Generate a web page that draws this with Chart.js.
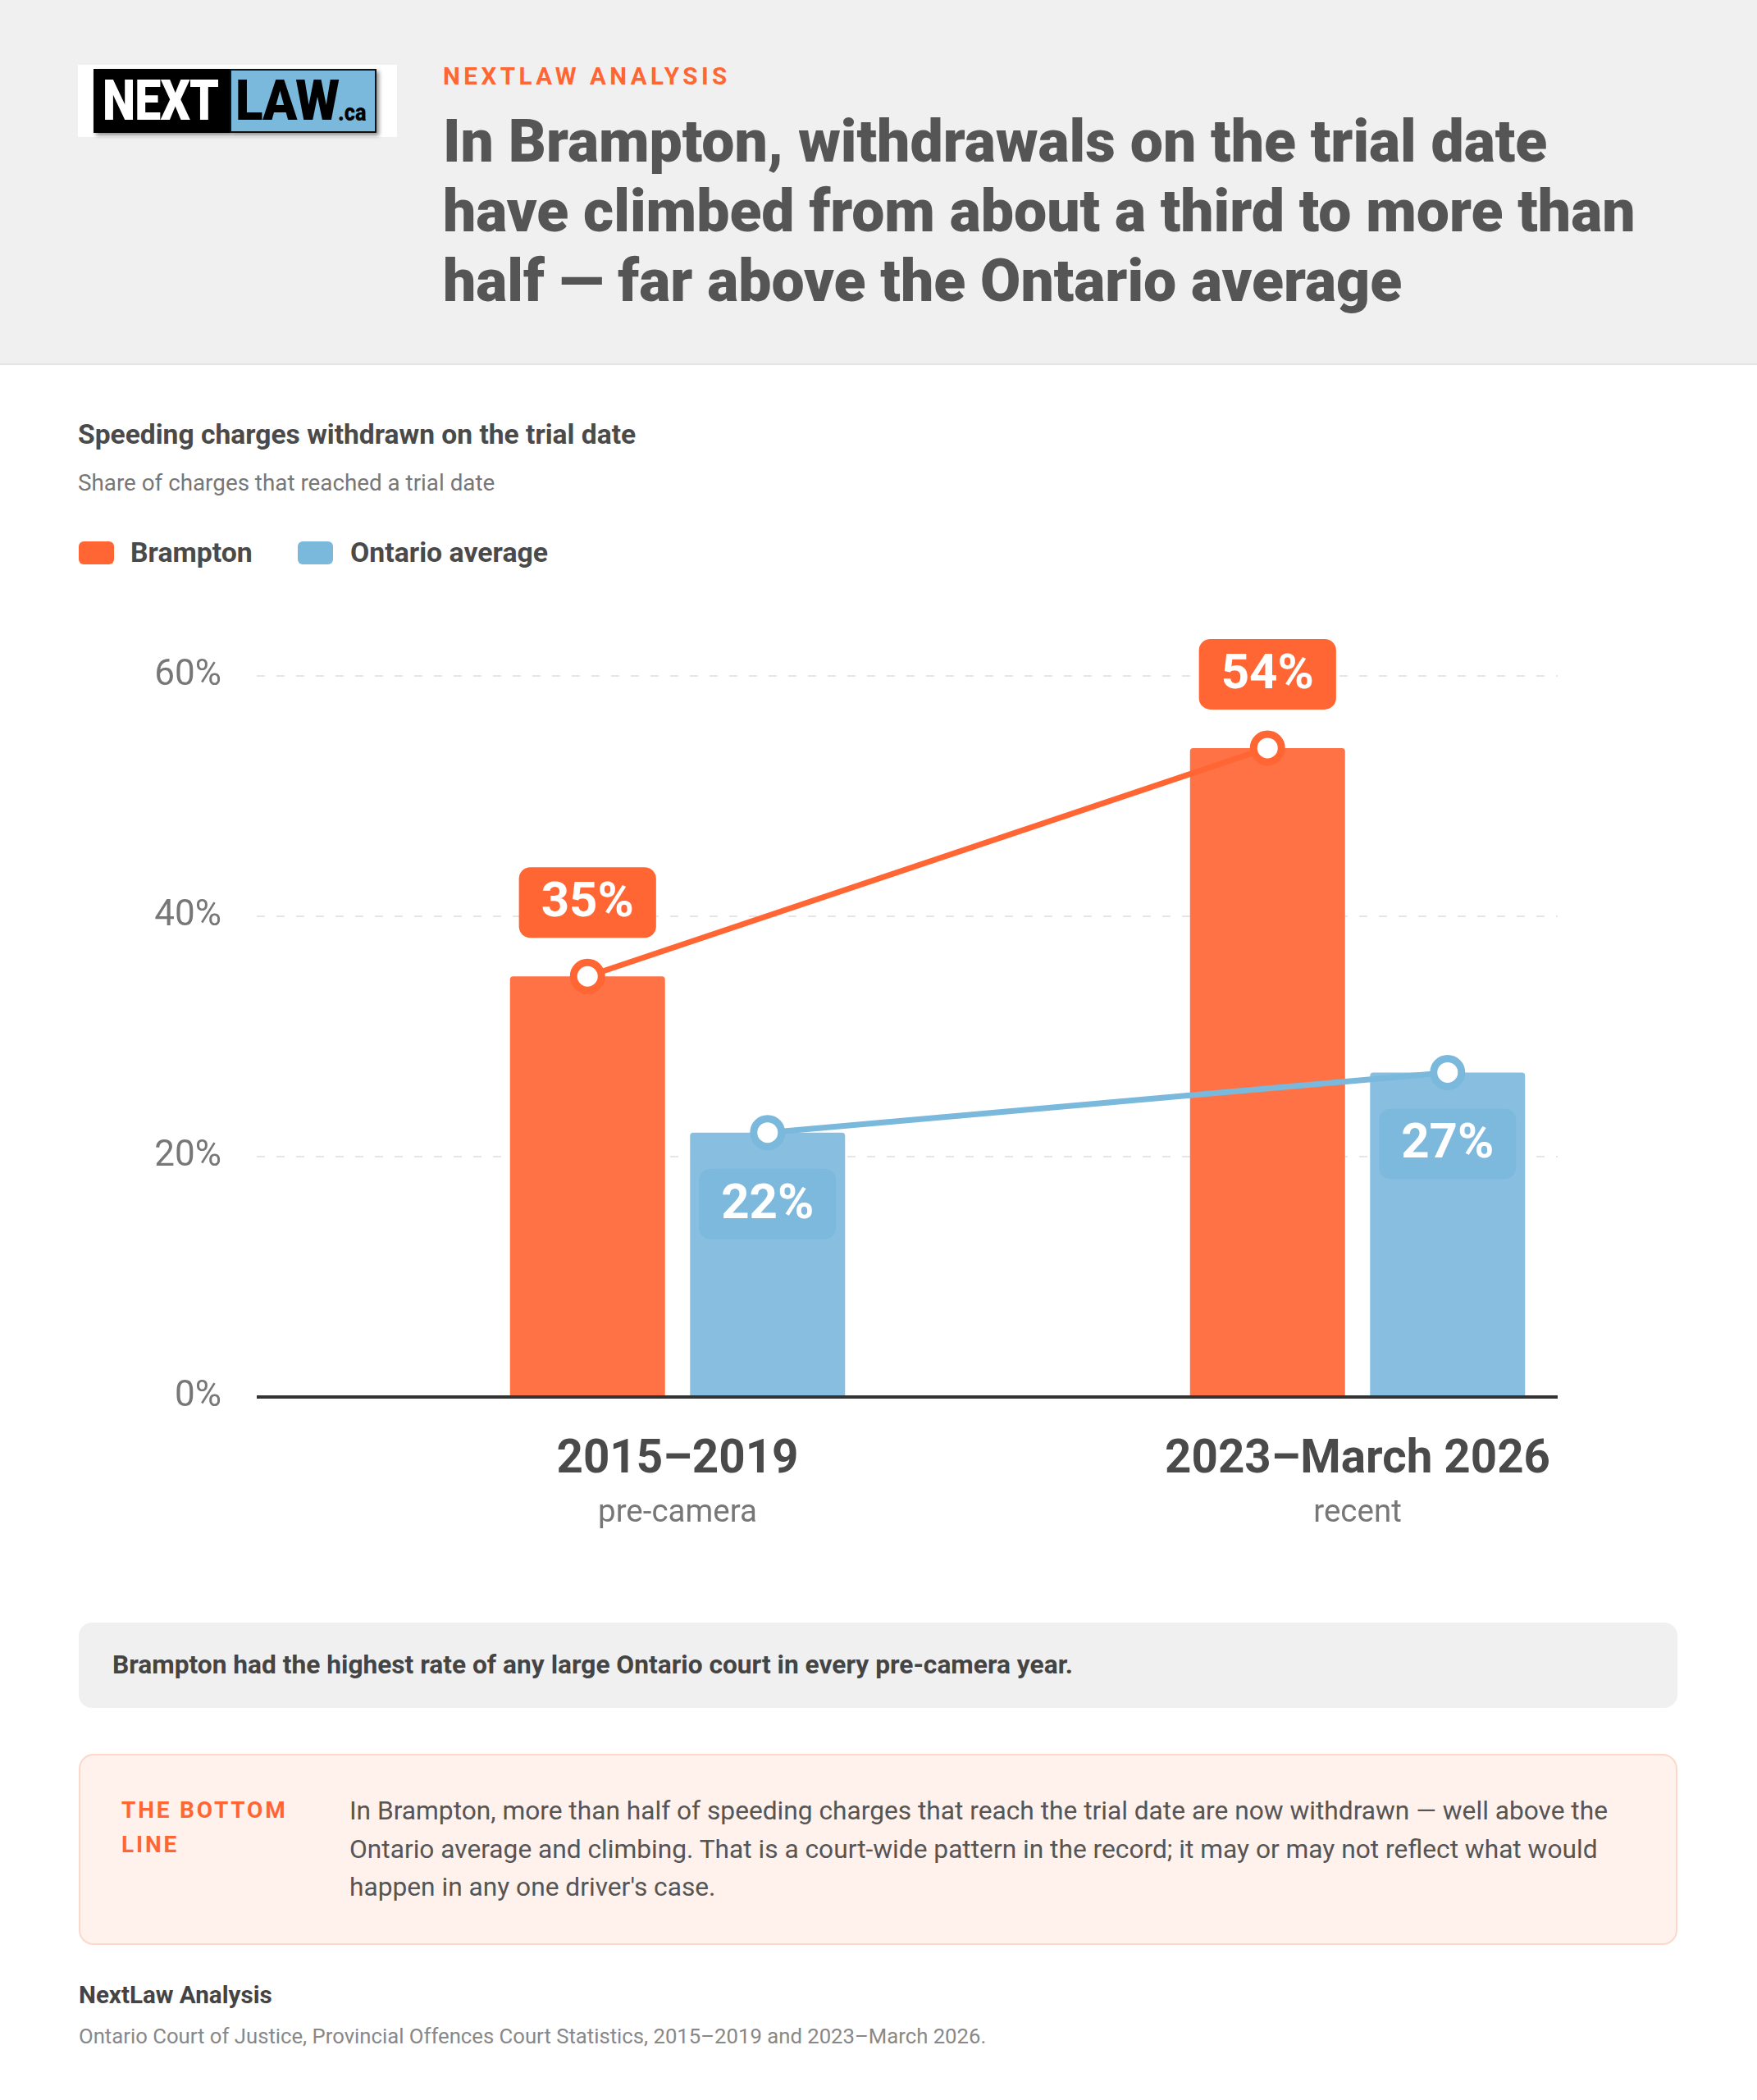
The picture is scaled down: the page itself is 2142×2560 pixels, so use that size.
<!DOCTYPE html>
<html>
<head>
<meta charset="utf-8">
<script src="https://cdn.jsdelivr.net/npm/chart.js@4.4.1/dist/chart.umd.min.js"></script>
<style>
  html, body { margin: 0; padding: 0; }
  body { width: 2142px; height: 2560px; position: relative; overflow: hidden; background: #fff; font-family: Roboto, "Noto Sans", sans-serif; }
  .t { position: absolute; white-space: nowrap; }
  .cabecalho { position: absolute; left: 0; top: 0; width: 2142px; height: 443px; background: #f0f0f0; border-bottom: 2px solid #e4e4e4; }
  .logo-fundo { position: absolute; left: 95px; top: 79px; width: 389px; height: 88px; background: #fff; }
  .logo-preto { position: absolute; left: 114px; top: 84px; width: 166px; height: 78px; background: #000; box-shadow: 3px 3px 5px rgba(0,0,0,.45); }
  .logo-azul { position: absolute; left: 280px; top: 84px; width: 179px; height: 78px; background: #7ab8dc; border: 2px solid #111; box-sizing: border-box; box-shadow: 3px 3px 5px rgba(0,0,0,.45); }
  .logo-txt { position: absolute; top: 84px; line-height: 79px; font-size: 68px; font-weight: 900; transform-origin: left center; letter-spacing: -1px; }
  .kicker { left: 540px; top: 78px; font-size: 29.5px; line-height: 30px; font-weight: 700; color: #ff6633; letter-spacing: 4.5px; }
  .titulo { left: 540px; top: 130px; font-size: 71.5px; line-height: 85px; font-weight: 900; color: #555; }
  .sec-titulo { left: 95px; top: 512px; font-size: 33.6px; line-height: 36px; font-weight: 700; color: #4a4a4a; }
  .sec-sub { left: 95px; top: 574px; font-size: 27.8px; line-height: 30px; color: #777; }
  .amostra { position: absolute; top: 660px; width: 43px; height: 28px; border-radius: 6px; }
  .leg { top: 656px; font-size: 33.8px; line-height: 36px; font-weight: 700; color: #4a4a4a; }
  #area { position: absolute; left: 0; top: 720px; width: 2142px; height: 1200px; }
  .nota { position: absolute; left: 96px; top: 1978px; width: 1949px; height: 104px; background: #f0f0f0; border-radius: 16px; }
  .nota span { position: absolute; left: 41px; top: 0; line-height: 104px; font-size: 31.7px; font-weight: 700; color: #444; white-space: nowrap; }
  .conclusao { position: absolute; left: 96px; top: 2138px; width: 1949px; height: 233px; background: #fff1ec; border: 2px solid #fcd8cb; border-radius: 18px; box-sizing: border-box; }
  .conc-rot { position: absolute; left: 148px; top: 2186px; width: 230px; font-size: 28px; line-height: 42px; font-weight: 700; color: #ff6633; letter-spacing: 2.8px; }
  .conc-txt { left: 426px; top: 2185px; font-size: 31.7px; line-height: 46.5px; color: #555; }
  .rod1 { left: 96px; top: 2415px; font-size: 29.6px; line-height: 34px; font-weight: 700; color: #444; }
  .rod2 { left: 96px; top: 2467px; font-size: 25.7px; line-height: 30px; color: #888; }
</style>
</head>
<body>
  <div class="cabecalho"></div>
  <div class="logo-fundo"></div>
  <div class="logo-preto"></div>
  <div class="logo-azul"></div>
  <div class="logo-txt" style="left:125px;color:#fff;transform:scaleX(.84)">NEXT</div>
  <div class="logo-txt" style="left:287px;color:#000;transform:scaleX(.91)">LAW</div>
  <div class="t" style="left:412px;top:122px;font-size:30px;line-height:30px;font-weight:900;transform:scaleX(.85);transform-origin:left center">.ca</div>

  <div class="t kicker">NEXTLAW ANALYSIS</div>
  <div class="t titulo">In Brampton, withdrawals on the trial date<br>have climbed from about a third to more than<br>half — far above the Ontario average</div>

  <div class="t sec-titulo">Speeding charges withdrawn on the trial date</div>
  <div class="t sec-sub">Share of charges that reached a trial date</div>

  <div class="amostra" style="left:96px;background:#ff6633"></div>
  <div class="t leg" style="left:159px">Brampton</div>
  <div class="amostra" style="left:363px;background:#7ab8dc"></div>
  <div class="t leg" style="left:427px">Ontario average</div>

  <div id="area"><canvas id="grafico"></canvas></div>

  <div class="nota"><span>Brampton had the highest rate of any large Ontario court in every pre-camera year.</span></div>

  <div class="conclusao"></div>
  <div class="conc-rot">THE BOTTOM LINE</div>
  <div class="t conc-txt">In Brampton, more than half of speeding charges that reach the trial date are now withdrawn — well above the<br>Ontario average and climbing. That is a court-wide pattern in the record; it may or may not reflect what would<br>happen in any one driver's case.</div>

  <div class="t rod1">NextLaw Analysis</div>
  <div class="t rod2">Ontario Court of Justice, Provincial Offences Court Statistics, 2015–2019 and 2023–March 2026.</div>

<script>
const categorias = ['2015–2019', '2023–March 2026']
const subtitulos = ['pre-camera', 'recent']
const brampton = [35, 54]
const ontario = [22, 27]
const ticksY = [0, 20, 40, 60]

const cores = {
  brampton: { barra: '#ff7245', linha: '#ff6633', caixa: '#ff6633' },
  ontario: { barra: '#88bfe0', linha: '#7ab8dc', caixa: '#7db9dd' }
}

function caixaArredondada(ctx, x, y, w, h, r) {
  ctx.beginPath()
  ctx.moveTo(x + r, y)
  ctx.arcTo(x + w, y, x + w, y + h, r)
  ctx.arcTo(x + w, y + h, x, y + h, r)
  ctx.arcTo(x, y + h, x, y, r)
  ctx.arcTo(x, y, x + w, y, r)
  ctx.closePath()
  ctx.fill()
}

const pluginRotulos = {
  id: 'rotulos',
  afterDatasetsDraw(chart) {
    const { ctx, chartArea, scales } = chart
    const y0 = scales.y.getPixelForValue(0)
    const series = [cores.brampton, cores.ontario]
    ctx.save()

    // linha de base
    ctx.strokeStyle = '#333'
    ctx.lineWidth = 4
    ctx.beginPath()
    ctx.moveTo(chartArea.left, y0)
    ctx.lineTo(chartArea.right, y0)
    ctx.stroke()

    // linhas ligando o topo das barras
    series.forEach(function(s, i) {
      const barras = chart.getDatasetMeta(i).data
      ctx.strokeStyle = s.linha
      ctx.lineWidth = 7
      ctx.lineCap = 'round'
      ctx.beginPath()
      barras.forEach(function(b, j) {
        if (j === 0) ctx.moveTo(b.x, b.y)
        else ctx.lineTo(b.x, b.y)
      })
      ctx.stroke()
    })

    // pontos
    series.forEach(function(s, i) {
      chart.getDatasetMeta(i).data.forEach(function(b) {
        ctx.beginPath()
        ctx.arc(b.x, b.y, 17, 0, Math.PI * 2)
        ctx.fillStyle = '#fff'
        ctx.fill()
        ctx.strokeStyle = s.linha
        ctx.lineWidth = 9
        ctx.stroke()
      })
    })

    // rótulos de valor
    ctx.font = 'bold 60px Roboto'
    ctx.textAlign = 'center'
    ctx.textBaseline = 'middle'
    series.forEach(function(s, i) {
      const valores = chart.data.datasets[i].data
      chart.getDatasetMeta(i).data.forEach(function(b, j) {
        const texto = valores[j].y + '%'
        const w = ctx.measureText(texto).width + 54
        const h = 86
        const topo = i === 0 ? b.y - 47 - h : b.y + 44
        ctx.fillStyle = s.caixa
        caixaArredondada(ctx, b.x - w / 2, topo, w, h, 14)
        ctx.fillStyle = '#fff'
        ctx.fillText(texto, b.x, topo + h / 2 + 2)
      })
    })

    // rótulos das categorias
    ctx.textBaseline = 'alphabetic'
    categorias.forEach(function(c, i) {
      const x = scales.x.getPixelForValue(i)
      ctx.font = 'bold 56.5px Roboto'
      ctx.fillStyle = '#4a4a4a'
      ctx.fillText(c, x, y0 + 92)
      ctx.font = '38.5px Roboto'
      ctx.fillStyle = '#777'
      ctx.fillText(subtitulos[i], x, y0 + 152)
    })
    ctx.restore()
  }
}

const ctx = document.getElementById('grafico').getContext('2d')
new Chart(ctx, {
  type: 'bar',
  data: {
    datasets: [
      {
        label: 'Brampton',
        data: brampton.map(function(v, i) { return { x: i, y: v } }),
        backgroundColor: cores.brampton.barra
      },
      {
        label: 'Ontario average',
        data: ontario.map(function(v, i) { return { x: i, y: v } }),
        backgroundColor: cores.ontario.barra
      }
    ]
  },
  options: {
    responsive: true,
    maintainAspectRatio: false,
    animation: false,
    layout: { padding: { top: 104, bottom: 217, left: 0, right: 243 } },
    plugins: { legend: { display: false }, tooltip: { enabled: false } },
    datasets: {
      bar: {
        categoryPercentage: 0.5296,
        barPercentage: 0.861,
        borderRadius: { topLeft: 4, topRight: 4, bottomLeft: 0, bottomRight: 0 },
        borderSkipped: 'bottom'
      }
    },
    scales: {
      x: {
        type: 'linear',
        offset: false,
        min: -0.6188,
        max: 1.2943,
        afterBuildTicks: function(eixo) { eixo.ticks = categorias.map(function(c, i) { return { value: i } }) },
        afterFit: function(eixo) { eixo.height = 0 },
        ticks: { display: false },
        grid: { display: false, offset: false },
        border: { display: false }
      },
      y: {
        min: 0,
        max: 60,
        afterBuildTicks: function(eixo) { eixo.ticks = ticksY.map(function(v) { return { value: v } }) },
        afterFit: function(eixo) { eixo.width = 313 },
        ticks: {
          callback: function(v) { return v + '%' },
          font: { family: 'Roboto', size: 44 },
          color: '#777',
          padding: 43
        },
        grid: {
          color: function(c) { return c.tick && c.tick.value === 0 ? 'rgba(0,0,0,0)' : '#e6e6e6' },
          lineWidth: 2,
          drawTicks: false
        },
        border: { display: false, dash: [10, 14] }
      }
    }
  },
  plugins: [pluginRotulos]
})
</script>
</body>
</html>
